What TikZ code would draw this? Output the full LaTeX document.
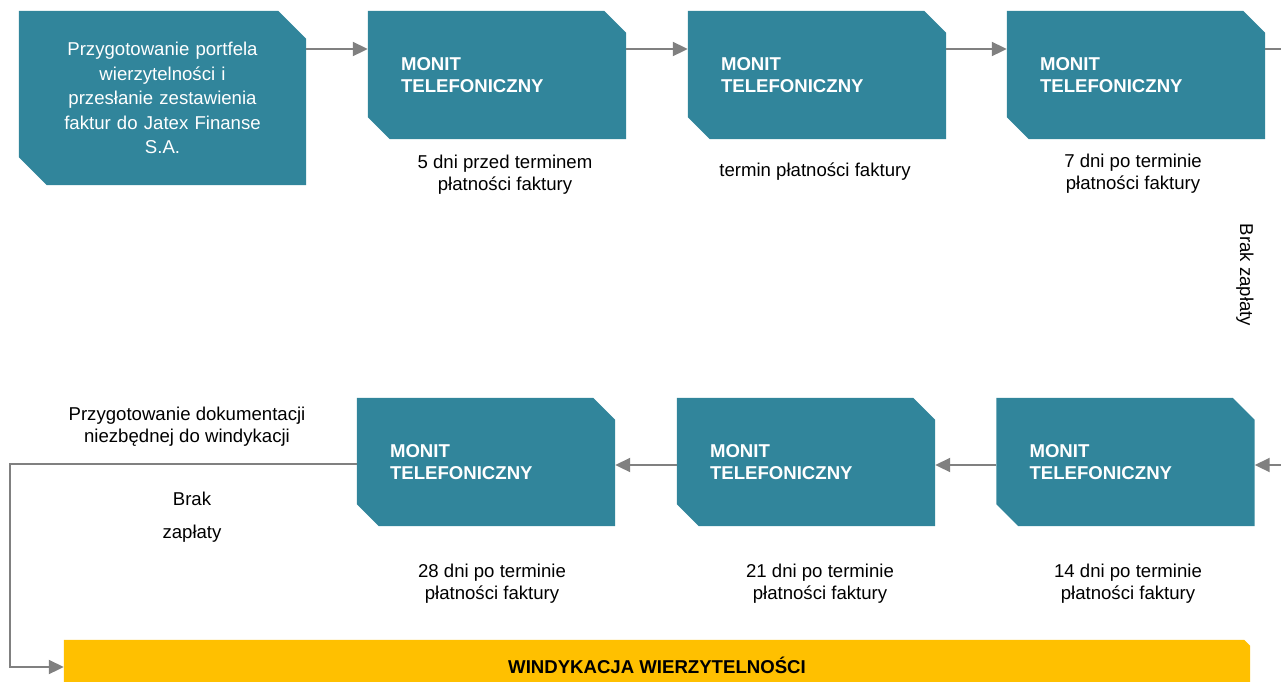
\documentclass[tikz,border=0pt]{standalone}
\usepackage{fontspec}
\setmainfont{Liberation Sans}
\usetikzlibrary{arrows.meta, calc, backgrounds}
\definecolor{monitteal}{RGB}{49,133,155}
\definecolor{windyellow}{RGB}{255,192,0}
\definecolor{flowgray}{RGB}{128,128,128}
\tikzset{
  monit/.style={rectangle, inner xsep=33pt, inner ysep=0pt, text width=192pt,
      minimum height=128pt, align=left, text=white,
      font=\fontsize{18.6}{22}\selectfont\bfseries},
  startbox/.style={rectangle, inner xsep=33.5pt, inner ysep=0pt, text width=220pt,
      minimum height=174pt, align=center, text=white,
      font=\fontsize{18.6}{24.5}\selectfont},
  bar/.style={rectangle, inner sep=0pt, minimum width=1186pt, minimum height=50pt,
      font=\fontsize{18.6}{22}\selectfont\bfseries},
  lbl/.style={align=center, font=\fontsize{18.6}{22}\selectfont},
  flow/.style={draw=flowgray, line width=2pt, -{Triangle[length=15pt, width=14pt]}},
  flowline/.style={draw=flowgray, line width=2pt},
}
% fill a box with its north east and south west corners cut off
\newcommand\snipfill[3]{%
  \fill[#3] (#1.north west) -- ($(#1.north east)+(-#2,0pt)$) -- ($(#1.north east)+(0pt,-#2)$)
    -- (#1.south east) -- ($(#1.south west)+(#2,0pt)$) -- ($(#1.south west)+(0pt,#2)$) -- cycle;}

\begin{document}
\begin{tikzpicture}[x=1pt, y=-1pt]
  \clip (0,0) rectangle (1281,681);
  % top row
  \node[startbox] (start) at (162.5,98) {Przygotowanie portfela\\ wierzytelności i\\ przesłanie zestawienia\\ faktur do Jatex Finanse\\ S.A.};
  \node[monit] (m1) at (497,75) {MONIT\\ TELEFONICZNY};
  \node[monit] (m2) at (817,75) {MONIT\\ TELEFONICZNY};
  \node[monit] (m3) at (1136,75) {MONIT\\ TELEFONICZNY};
  \node[lbl] (l1) at (505,175) {5 dni przed terminem\\ płatności faktury};
  \node[lbl] (l2) at (815,172) {termin płatności faktury};
  \node[lbl] (l3) at (1133,174) {7 dni po terminie\\ płatności faktury};
  \node[lbl, rotate=-90] (nopay1) at (1245,275) {Brak zapłaty};
  % bottom row
  \node[monit] (m28) at (486,462) {MONIT\\ TELEFONICZNY};
  \node[monit] (m21) at (806,462) {MONIT\\ TELEFONICZNY};
  \node[monit] (m14) at (1125.5,462) {MONIT\\ TELEFONICZNY};
  \node[lbl] (l28) at (492,584) {28 dni po terminie\\ płatności faktury};
  \node[lbl] (l21) at (820,584) {21 dni po terminie\\ płatności faktury};
  \node[lbl] (l14) at (1128,584) {14 dni po terminie\\ płatności faktury};
  \node[lbl] (docs) at (187,427) {Przygotowanie dokumentacji\\ niezbędnej do windykacji};
  \node[lbl] (nopay2) at (192,517) {Brak\\[11pt] zapłaty};
  \node[bar] (wind) at (657,665) {WINDYKACJA WIERZYTELNOŚCI};
  \coordinate (outT) at (1281,49);
  \coordinate (inB) at (1281,465);
  % shapes behind the texts
  \begin{scope}[on background layer]
    \snipfill{start}{28pt}{monitteal}
    \foreach \n in {m1, m2, m3, m28, m21, m14}
      \snipfill{\n}{22pt}{monitteal};
    \fill[windyellow] (wind.north west) -- ($(wind.north east)+(-6pt,0pt)$)
      -- ($(wind.north east)+(0pt,-6pt)$) -- (wind.south east) -- (wind.south west) -- cycle;
  \end{scope}
  % connectors
  \draw[flow] ([yshift=26pt]m1.west -| start.east) -- ([yshift=26pt]m1.west);
  \draw[flow] ([yshift=26pt]m1.east) -- ([yshift=26pt]m2.west);
  \draw[flow] ([yshift=26pt]m2.east) -- ([yshift=26pt]m3.west);
  \draw[flowline] ([yshift=26pt]m3.east) -- (outT);
  \draw[flow] (inB) -- (inB -| m14.east);
  \draw[flow] ([yshift=-3pt]m14.west) -- ([yshift=-3pt]m21.east);
  \draw[flow] ([yshift=-3pt]m21.west) -- ([yshift=-3pt]m28.east);
  \draw[flow] ([yshift=-2pt]m28.west) -- ++(-347,0) |- ([yshift=-2pt]wind.west);
\end{tikzpicture}
\end{document}
